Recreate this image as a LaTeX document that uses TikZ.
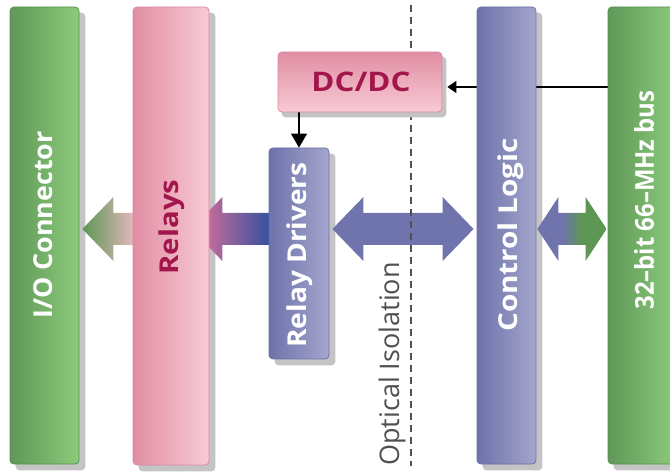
\documentclass[tikz,border=0pt]{standalone}
\usepackage{fontspec}
\setmainfont{Open Sans}
\usetikzlibrary{arrows.meta,calc}
\definecolor{boxgreenL}{HTML}{5F9858}
\definecolor{boxgreenR}{HTML}{8DCA7B}
\definecolor{boxgreenD}{HTML}{5A8F52}
\definecolor{boxpinkL}{HTML}{E08EA3}
\definecolor{boxpinkR}{HTML}{F8CAD5}
\definecolor{boxpinkD}{HTML}{DC8AA0}
\definecolor{boxblueL}{HTML}{6D72AA}
\definecolor{boxblueR}{HTML}{A4A6CC}
\definecolor{boxblueD}{HTML}{6A6FA6}
\definecolor{crimson}{HTML}{A3164B}
\definecolor{arrowblue}{HTML}{6F74AD}
\definecolor{arrowgreen}{HTML}{5E9653}
\definecolor{arrowpink}{HTML}{E6739B}
\definecolor{pinklight}{HTML}{F2BCC8}
\definecolor{darkblue}{HTML}{2B4E9F}
\definecolor{shadowc}{HTML}{C4C4C4}
\definecolor{textgray}{HTML}{505050}
\pgfdeclarelayer{shadowlayer}
\pgfdeclarelayer{arrowlayer}
\pgfsetlayers{shadowlayer,arrowlayer,main}
\begin{document}
\begin{tikzpicture}[x=1pt,y=-1pt,
  box/.style={draw, rounded corners=4pt, line width=0.8pt, inner sep=0pt},
  greenbox/.style={box, draw=boxgreenD, left color=boxgreenL, right color=boxgreenR},
  pinkbox/.style={box, draw=boxpinkD, left color=boxpinkL, right color=boxpinkR},
  bluebox/.style={box, draw=boxblueD, left color=boxblueL, right color=boxblueR},
  dcbox/.style={box, draw=boxpinkD, top color=boxpinkL, bottom color=boxpinkR},
  lbl/.style={rotate=90, font=\bfseries\fontsize{26}{30}\selectfont, text=white, inner sep=0pt},
  shadowfill/.style={fill=shadowc, rounded corners=4pt},
  sarrow/.style n args={3}{insert path={(#1) -- ++(#3,-32) -- ++(0,16) -- ($(#2)+(0,-16)$) -- ($(#2)+(0,16)$) -- ($(#1)+(#3,16)$) -- ++(0,16) -- cycle}},
  darrow/.style n args={3}{insert path={(#1) -- ++(#3,-32) -- ++(0,16) -- ($(#2)+(-#3,-16)$) -- ++(0,-16) -- (#2) -- ++(-#3,32) -- ++(0,-16) -- ($(#1)+(#3,16)$) -- ++(0,16) -- cycle}},
  thinarrow/.style={line width=1.3pt, black}
]
\useasboundingbox (0,0) rectangle (670,473);

% boxes
\node[greenbox, minimum width=69pt, minimum height=457pt] (io) at (44.5,235.5) {};
\node[pinkbox, minimum width=76pt, minimum height=458pt] (relays) at (171,236) {};
\node[bluebox, minimum width=60pt, minimum height=211pt] (drivers) at (299,253.5) {};
\node[dcbox, minimum width=164pt, minimum height=60pt] (dcdc) at (360,82) {};
\node[bluebox, minimum width=59pt, minimum height=457pt] (ctrl) at (506.5,235.5) {};
\node[greenbox, minimum width=68pt, minimum height=457pt] (bus) at (642,235.5) {};

% labels
\node[lbl] (iot) at (43,225) {\scalebox{1.03}[1]{I/O Connector}};
\node[lbl, text=crimson] (relt) at (172,227) {\scalebox{1.13}[1]{Relays}};
\node[lbl] (drt) at (300,255) {\scalebox{1.08}[1]{Relay Drivers}};
\node[font=\bfseries\fontsize{27}{30}\selectfont, text=crimson, inner sep=0pt] (dct) at (361,82) {\scalebox{1.16}[1]{DC/DC}};
\node[lbl] (ctt) at (511,235) {\scalebox{1.14}[1]{Control Logic}};
\node[lbl] (bust) at (644,200) {\scalebox{0.92}[1]{32–bit 66–MHz bus}};
\node[rotate=90, text=textgray, font=\fontsize{27}{32}\selectfont, inner sep=0pt] (opt) at (392,364) {Optical Isolation};

% shadows
\begin{pgfonlayer}{shadowlayer}
\foreach \n in {io,relays,drivers,ctrl,bus}
  \fill[shadowfill] ([shift={(6,6)}]\n.north west) rectangle ([shift={(6,6)}]\n.south east);
\end{pgfonlayer}

% connectors
\begin{pgfonlayer}{arrowlayer}
\coordinate (a1t) at ($(io.east |- 0,229)+(3,0)$);
\coordinate (a1e) at ($(relays.west |- 0,229)+(7,0)$);
\coordinate (a2t) at ($(relays.east |- 0,229)+(-18,0)$);
\coordinate (a2e) at ($(drivers.west |- 0,229)+(6,0)$);
\coordinate (a3l) at ($(drivers.east |- 0,229)+(3,0)$);
\coordinate (a3r) at ($(ctrl.west |- 0,229)+(-3,0)$);
\coordinate (a4l) at ($(ctrl.east |- 0,229)+(1,0)$);
\coordinate (a4r) at ($(bus.west |- 0,229)+(-1,0)$);

\path[sarrow={a1t}{a1e}{31}, left color=arrowgreen, right color=pinklight];
\path[sarrow={a2t}{a2e}{31}, left color=arrowpink, middle color=arrowpink, right color=darkblue];
\path[darrow={a3l}{a3r}{31}, fill=arrowblue];
\begin{scope}
  \clip[darrow={a4l}{a4r}{21}];
  \fill[arrowblue] ($(a4l)+(0,-40)$) rectangle ($(a4l)+(25,40)$);
  \shade[left color=arrowblue, right color=arrowgreen] ($(a4l)+(25,-40)$) rectangle ($(a4l)+(44,40)$);
  \fill[arrowgreen] ($(a4l)+(44,-40)$) rectangle ($(a4r)+(0,40)$);
\end{scope}

\draw[textgray, line width=1.1pt, dash pattern=on 7pt off 5pt] (411,5) -- (411,466);
\fill[shadowfill] ([shift={(4,5)}]dcdc.north west) rectangle ([shift={(4,5)}]dcdc.south east);

\draw[thinarrow, -{Triangle[width=12pt,length=9pt]}] ($(bus.west |- dcdc.east)+(0,5)$) -- ($(dcdc.east)+(5,5)$);
\draw[thinarrow, -{Triangle[width=16pt,length=14pt]}] (drivers.north |- dcdc.south) -- (drivers.north);
\end{pgfonlayer}
\end{tikzpicture}
\end{document}
